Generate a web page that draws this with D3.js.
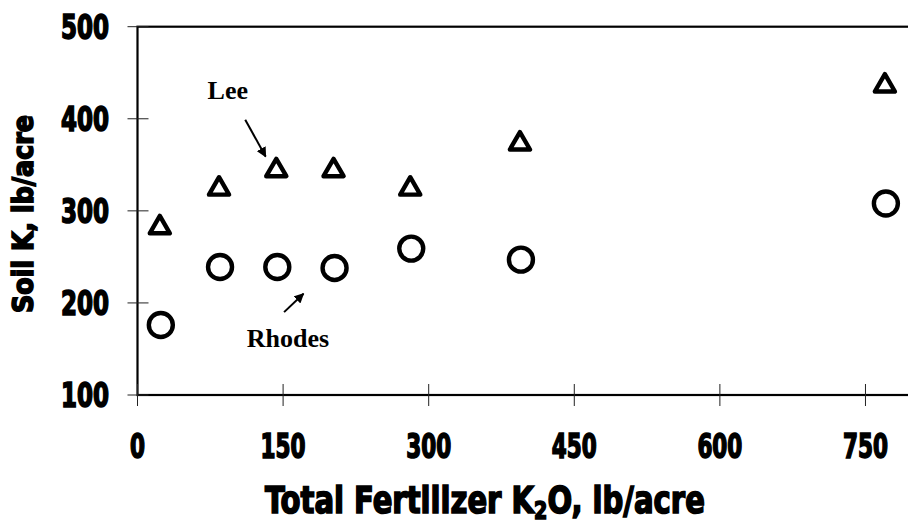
<!DOCTYPE html>
<html>
<head>
<meta charset="utf-8">
<script src="https://cdn.jsdelivr.net/npm/d3@7"></script>
<style>
  html,body{margin:0;padding:0;background:#fff;}
  svg{display:block;}
  .tick-label{font-family:"DejaVu Sans Condensed","DejaVu Sans",sans-serif;font-weight:bold;font-size:33px;fill:#000;stroke:#000;stroke-width:1.6px;}
  .axis-title{font-family:"DejaVu Sans Condensed","DejaVu Sans",sans-serif;font-weight:bold;fill:#000;stroke:#000;stroke-width:1.6px;}
  .note{font-family:"Liberation Serif","Times New Roman",serif;font-weight:bold;font-size:26px;fill:#000;}
</style>
</head>
<body>
<div id="chart"></div>
<script>
// fertilizer K2O rates (lb/acre)
const xVals = [23, 84, 143, 202, 281, 394, 770];
// soil K (lb/acre)
const leeVals = [283, 325, 345, 345, 325, 374, 437];
const rhodesVals = [176, 239, 239, 238, 259, 247, 308];

const xTicks = [0, 150, 300, 450, 600, 750];
const yTicks = [100, 200, 300, 400, 500];

// annotations in data units: label position + arrow tail/tip
const notes = [
  {text:'Lee', x:93, y:421, from:[111, 399], to:[132, 359]},
  {text:'Rhodes', x:155, y:152, from:[151, 190], to:[171, 210]}
];

const W = 908, H = 523;
const svg = d3.select('#chart').append('svg').attr('width', W).attr('height', H);

const x = d3.scaleLinear().domain([0, 800]).range([137.5, 914]);
const y = d3.scaleLinear().domain([100, 500]).range([395, 26.7]);

svg.append('defs').append('marker')
  .attr('id','arrow').attr('viewBox','0 0 10 10').attr('refX',9).attr('refY',5)
  .attr('markerWidth',5).attr('markerHeight',5).attr('markerUnits','strokeWidth')
  .attr('orient','auto')
  .append('path').attr('d','M0,0L10,5L0,10z').attr('fill','#000');

// frame
svg.append('rect')
  .attr('x', x(0)).attr('y', y(500))
  .attr('width', x(800)-x(0)).attr('height', y(100)-y(500))
  .attr('fill','none').attr('stroke','#000').attr('stroke-width',2.2);

// y axis ticks (crossing the axis line)
svg.selectAll('line.ytick').data(yTicks).enter().append('line')
  .attr('class','ytick')
  .attr('x1', x(0)-10).attr('x2', x(0)+11)
  .attr('y1', d=>y(d)).attr('y2', d=>y(d))
  .attr('stroke','#222').attr('stroke-width',1);

svg.selectAll('text.ylab').data(yTicks).enter().append('text')
  .attr('class','tick-label ylab')
  .attr('x', 109).attr('y', d=>y(d)+12)
  .attr('text-anchor','end')
  .attr('textLength', d=>String(d).length*16).attr('lengthAdjust','spacingAndGlyphs')
  .text(d=>d);

// x axis ticks
svg.selectAll('line.xtick').data(xTicks).enter().append('line')
  .attr('class','xtick')
  .attr('x1', d=>x(d)).attr('x2', d=>x(d))
  .attr('y1', y(100)-11).attr('y2', y(100)+11)
  .attr('stroke','#222').attr('stroke-width',1);

svg.selectAll('text.xlab').data(xTicks).enter().append('text')
  .attr('class','tick-label xlab')
  .attr('x', d=>x(d)).attr('y', 458)
  .attr('text-anchor','middle')
  .attr('textLength', d=>String(d).length*15).attr('lengthAdjust','spacingAndGlyphs')
  .text(d=>d);

// x title: one text, squeezed uniformly to the reference width
const xg = svg.append('g').attr('transform','translate(265,513)');
const xt = xg.append('text').attr('class','axis-title').attr('font-size', 38);
xt.append('tspan').text('Total Fertilizer K');
xt.append('tspan').attr('font-size', 25).attr('dy', 6).text('2');
xt.append('tspan').attr('dy', -6).text('O, lb/acre');
const xw = xt.node().getBBox().width;
xt.attr('transform', `scale(${440/xw},1)`);

// y title, squeezed the same way
const yg = svg.append('g').attr('transform','translate(33,214) rotate(-90)');
const yt = yg.append('text').attr('class','axis-title')
  .attr('text-anchor','middle').attr('font-size', 29)
  .text('Soil K, lb/acre');
const yw = yt.node().getBBox().width;
yt.attr('transform', `scale(${198/yw},1)`);

// Lee: open triangles
const tri = d3.symbol().type(d3.symbolTriangle).size(175);
svg.selectAll('path.lee').data(xVals.map((v,i)=>[v, leeVals[i]])).enter().append('path')
  .attr('class','lee')
  .attr('d', tri)
  .attr('transform', d=>`translate(${x(d[0])},${y(d[1])+1})`)
  .attr('fill','none').attr('stroke','#000').attr('stroke-width',4.4)
  .attr('stroke-linejoin','round');

// Rhodes: open circles
svg.selectAll('circle.rhodes').data(xVals.map((v,i)=>[v, rhodesVals[i]])).enter().append('circle')
  .attr('class','rhodes')
  .attr('cx', d=>x(d[0])+1).attr('cy', d=>y(d[1]))
  .attr('r', 12)
  .attr('fill','none').attr('stroke','#000').attr('stroke-width',4.4);

// labels and arrows
svg.selectAll('text.note').data(notes).enter().append('text')
  .attr('class','note')
  .attr('x', d=>x(d.x)).attr('y', d=>y(d.y))
  .attr('text-anchor','middle')
  .text(d=>d.text);

svg.selectAll('line.arrow').data(notes).enter().append('line')
  .attr('class','arrow')
  .attr('x1', d=>x(d.from[0])).attr('y1', d=>y(d.from[1]))
  .attr('x2', d=>x(d.to[0])).attr('y2', d=>y(d.to[1]))
  .attr('stroke','#000').attr('stroke-width',2)
  .attr('marker-end','url(#arrow)');
</script>
</body>
</html>
